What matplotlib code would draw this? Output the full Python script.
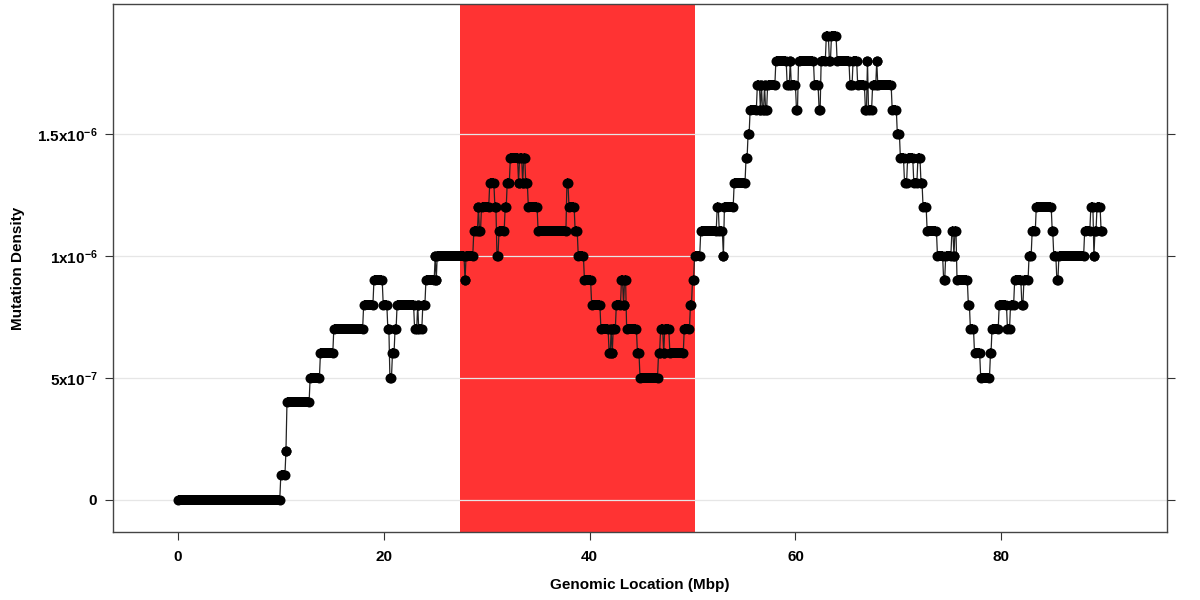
import matplotlib
matplotlib.use('Agg')
import matplotlib.pyplot as plt

# step runs: start (Mbp), end (Mbp), density in units of 1e-7
run_start = [0.0, 10.0, 10.5, 10.6, 12.85, 13.85, 15.15, 18.05, 19.05, 19.95,
             20.4, 20.6, 20.85, 21.1, 21.3, 23.0, 23.3, 23.4, 23.8, 24.1,
             25.0, 25.1, 25.2, 27.9, 28.0, 28.75, 29.2, 29.3, 29.5, 30.3,
             30.8, 31.0, 31.2, 31.8, 32.0, 32.3, 33.1, 33.2, 33.5, 33.6,
             33.8, 34.05, 35.0, 37.8, 38.0, 38.6, 38.9, 39.5, 40.2, 41.1,
             41.9, 42.1, 42.2, 42.3, 42.6, 43.1, 43.3, 43.4, 43.6, 44.65,
             44.9, 46.7, 46.9, 47.2, 47.3, 47.8, 49.2, 49.8, 50.0, 50.2,
             50.8, 52.4, 52.6, 53.0, 53.1, 54.05, 55.2, 55.4, 55.6, 56.3,
             56.6, 56.7, 56.8, 57.0, 57.1, 57.3, 58.1, 59.2, 59.5, 59.6,
             60.1, 60.3, 61.85, 62.3, 62.5, 63.0, 63.3, 63.5, 64.05, 65.3,
             65.6, 66.05, 66.8, 67.0, 67.1, 67.5, 67.9, 68.0, 69.4, 69.9,
             70.2, 70.6, 70.9, 71.5, 71.9, 72.2, 72.4, 72.8, 73.8, 74.4,
             74.6, 75.2, 75.4, 75.5, 75.7, 76.8, 77.0, 77.4, 78.0, 78.95,
             79.1, 79.8, 80.6, 80.9, 81.3, 82.0, 82.2, 82.7, 83.0, 83.4,
             84.95, 85.1, 85.4, 85.6, 88.1, 88.7, 89.0, 89.1, 89.3, 89.7]
run_end = [9.9, 10.4, 10.5, 12.75, 13.75, 15.05, 17.95, 18.95, 19.85, 20.3,
           20.5, 20.75, 21.0, 21.2, 22.9, 23.2, 23.3, 23.7, 24.0, 24.9,
           25.0, 25.1, 27.8, 27.9, 28.65, 29.1, 29.2, 29.4, 30.2, 30.7,
           30.9, 31.1, 31.7, 31.9, 32.2, 33.0, 33.1, 33.4, 33.5, 33.7,
           33.95, 34.9, 37.7, 37.9, 38.5, 38.8, 39.4, 40.1, 41.0, 41.8,
           42.0, 42.1, 42.2, 42.5, 43.0, 43.2, 43.3, 43.5, 44.55, 44.8,
           46.6, 46.8, 47.1, 47.2, 47.7, 49.1, 49.7, 49.9, 50.1, 50.7,
           52.3, 52.5, 52.9, 53.0, 53.95, 55.1, 55.3, 55.5, 56.2, 56.5,
           56.6, 56.7, 56.9, 57.0, 57.2, 58.0, 59.1, 59.4, 59.5, 60.0,
           60.2, 61.75, 62.2, 62.4, 62.9, 63.2, 63.4, 63.95, 65.2, 65.5,
           65.95, 66.7, 66.9, 67.0, 67.4, 67.8, 67.9, 69.3, 69.8, 70.1,
           70.5, 70.8, 71.4, 71.8, 72.1, 72.3, 72.7, 73.7, 74.3, 74.5,
           75.1, 75.3, 75.4, 75.6, 76.7, 76.9, 77.3, 77.9, 78.85, 79.0,
           79.7, 80.5, 80.8, 81.2, 81.9, 82.1, 82.6, 82.9, 83.3, 84.85,
           85.0, 85.3, 85.5, 88.0, 88.6, 88.9, 89.0, 89.2, 89.6, 89.8]
run_val = [0, 1, 2, 4, 5, 6, 7, 8, 9, 8,
           7, 5, 6, 7, 8, 7, 8, 7, 8, 9,
           10, 9, 10, 9, 10, 11, 12, 11, 12, 13,
           12, 10, 11, 12, 13, 14, 13, 14, 13, 14,
           13, 12, 11, 13, 12, 11, 10, 9, 8, 7,
           6, 7, 6, 7, 8, 9, 8, 9, 7, 6,
           5, 6, 7, 6, 7, 6, 7, 8, 9, 10,
           11, 12, 11, 10, 12, 13, 14, 15, 16, 17,
           16, 17, 16, 17, 16, 17, 18, 17, 18, 17,
           16, 18, 17, 16, 18, 19, 18, 19, 18, 17,
           18, 17, 16, 18, 16, 17, 18, 17, 16, 15,
           14, 13, 14, 13, 14, 13, 12, 11, 10, 9,
           10, 11, 10, 11, 9, 8, 7, 6, 5, 6,
           7, 8, 7, 8, 9, 8, 9, 10, 11, 12,
           11, 10, 9, 10, 11, 12, 10, 11, 12, 11]

region = (27.43, 50.2)
x_ticks = [0, 20, 40, 60, 80]
y_ticks = [0, 5e-7, 1e-6, 1.5e-6]
y_labels = [r'$\mathbf{0}$', r'$\mathbf{5x10^{-7}}$', r'$\mathbf{1x10^{-6}}$', r'$\mathbf{1.5x10^{-6}}$']

plt.rcParams['font.family'] = 'Liberation Sans'
plt.rcParams['font.weight'] = 'bold'
plt.rcParams['mathtext.fontset'] = 'custom'
plt.rcParams['mathtext.bf'] = 'Liberation Sans:bold'
plt.rcParams['mathtext.rm'] = 'Liberation Sans:bold'

fig = plt.figure(figsize=(12, 6), dpi=100)
ax = fig.add_axes([0.0942, 0.1133, 0.8783, 0.88])

scale = 1e-7
xs, ys = [], []
for s, e, v in zip(run_start, run_end, run_val):
    xs += [s, e]
    ys += [v * scale, v * scale]

ax.axvspan(region[0], region[1], color='#ff3333', lw=0, zorder=1)
for t in y_ticks:
    ax.axhline(t, color='#e6e6e6', lw=0.9, zorder=1.5)

ax.plot(xs, ys, color='#222222', lw=0.9, zorder=2)
ax.hlines([v * scale for v in run_val], run_start, run_end, color='black', lw=7.2, zorder=3)
ax.plot(xs, ys, 'o', color='black', ms=7.2, mew=0, ls='none', zorder=3)

ax.set_xlim(-6.3, 96.1)
ax.set_ylim(-0.133e-6, 2.033e-6)
ax.set_xticks(x_ticks)
ax.set_xticklabels([str(t) for t in x_ticks])
ax.set_yticks(y_ticks)
ax.set_yticklabels(y_labels)
ax.tick_params(axis='both', direction='out', length=6, width=0.8, color='#333333', labelsize=11)
ax.tick_params(axis='y', right=True, pad=5)
ax.tick_params(axis='x', pad=7)
for sp in ax.spines.values():
    sp.set_color('#444444')
    sp.set_linewidth(1)

ax.set_xlabel('Genomic Location (Mbp)', fontsize=11, fontweight='bold', labelpad=10)
ax.set_ylabel('Mutation Density', fontsize=11, fontweight='bold', labelpad=9)

fig.savefig('out.png', dpi=100)
